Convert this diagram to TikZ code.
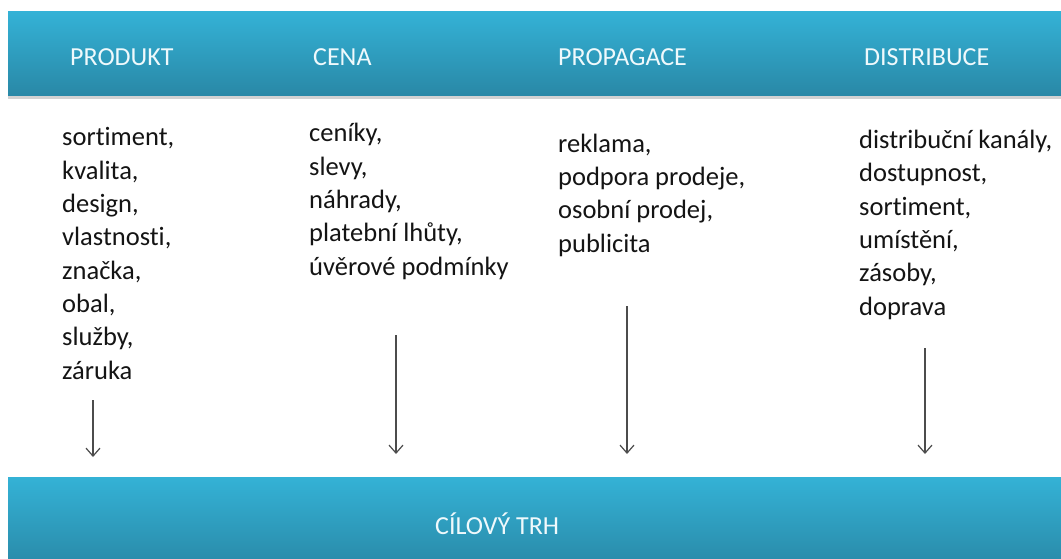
\documentclass[tikz,border=0pt]{standalone}
\usepackage{fontspec}
\setmainfont{Carlito}[Ligatures=NoCommon]
\usetikzlibrary{arrows.meta,shadows}
\definecolor{bantop}{RGB}{52,178,214}
\definecolor{banbot}{RGB}{41,136,166}
\definecolor{txt}{RGB}{20,20,20}
\begin{document}
\begin{tikzpicture}[x=1pt,y=-1pt,
  banner/.style={top color=bantop,bottom color=banbot,draw=none},
  head/.style={anchor=base west,inner sep=0pt,text=white!92!bantop,font=\fontsize{26}{30}\selectfont},
  list/.style={anchor=base west,inner sep=0pt,text=txt,align=left,font=\fontsize{26.5}{33.3}\selectfont},
  arr/.style={draw=black!70,line width=1.2pt,-{Straight Barb[length=8pt,width=14pt]}}]
\useasboundingbox (0,0) rectangle (1061,559);
\fill[white] (0,0) rectangle (1061,559);
% banners
\fill[banner,drop shadow={opacity=0.35,shadow xshift=0pt,shadow yshift=-3pt}] (8,12) rectangle (1070,96);
\fill[banner] (8,477) rectangle (1070,570);
% headers
\node[head] (hp) at (70,65.7) {PRODUKT};
\node[head] (hc) at (313,65.7) {CENA};
\node[head] (hr) at (558,65.7) {PROPAGACE};
\node[head] (hd) at (864,65.7) {DISTRIBUCE};
\node[head] (trh) at (435,534) {CÍLOVÝ TRH};
% lists (anchored at the baseline of their last line)
\node[list] (lp) at (62,379) {sortiment,\\kvalita,\\design,\\vlastnosti,\\značka,\\obal,\\služby,\\záruka};
\node[list] (lc) at (309,275) {ceníky,\\slevy,\\náhrady,\\platební lhůty,\\úvěrové podmínky};
\node[list] (lr) at (558,252) {reklama,\\podpora prodeje,\\osobní prodej,\\publicita};
\node[list] (ld) at (859,315) {distribuční kanály,\\dostupnost,\\sortiment,\\umístění,\\zásoby,\\doprava};
% arrows
\coordinate (a1s) at (93,400); \coordinate (a1e) at (93,457);
\coordinate (a2s) at (396,335); \coordinate (a2e) at (396,454);
\coordinate (a3s) at (627,306); \coordinate (a3e) at (627,454);
\coordinate (a4s) at (925,348); \coordinate (a4e) at (925,454);
\draw[arr] (a1s) -- (a1e);
\draw[arr] (a2s) -- (a2e);
\draw[arr] (a3s) -- (a3e);
\draw[arr] (a4s) -- (a4e);
\end{tikzpicture}
\end{document}
